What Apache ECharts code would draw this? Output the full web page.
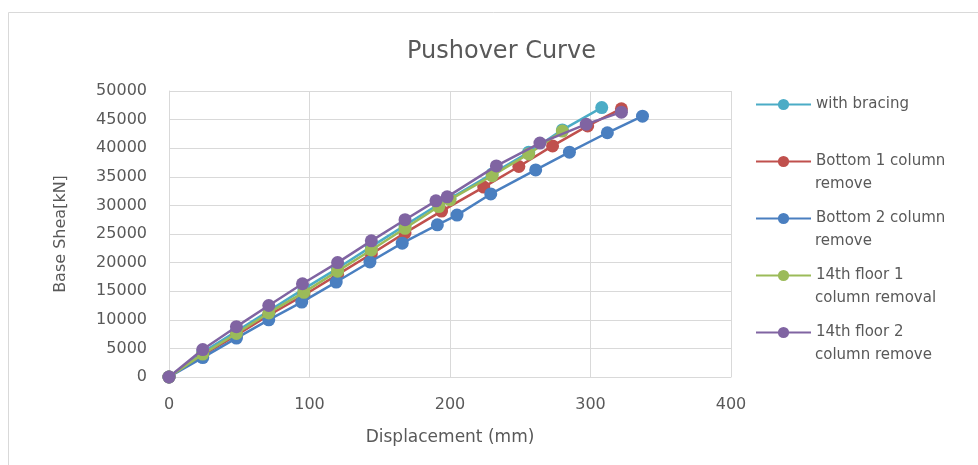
<!DOCTYPE html>
<html><head><meta charset="utf-8">
<script src="https://cdn.jsdelivr.net/npm/echarts@6/dist/echarts.min.js"></script>
<style>html,body{margin:0;padding:0;background:#fff}#c{width:978px;height:465px}</style>
</head><body><div id="c"></div>
<script>
const seriesNames = ["with bracing","Bottom 1 column\nremove","Bottom 2 column\nremove","14th floor 1\ncolumn removal","14th floor 2\ncolumn remove"];
const bracingX = [0,24,48,72,96,120,144,168,192,200,230,256,280,308];
const bracingY = [0,4300,8000,11700,15400,19000,22800,26500,30200,31200,35500,39300,43200,47100];
const bottom1X = [0,24,48,71,96,120,144,168,194,224,249,273,298,322];
const bottom1Y = [0,3800,7300,10800,14300,17900,21500,25200,29000,33200,36800,40400,43900,46900];
const bottom2X = [0,24,48,71,94.5,119,143,166,191,205,229,261,285,312,337];
const bottom2Y = [0,3400,6800,10000,13100,16600,20100,23400,26600,28300,32000,36200,39300,42700,45600];
const floor1X = [0,24,48,71,96,120,144,168,192,200,230,256,280];
const floor1Y = [0,4000,7600,11200,14800,18500,22200,26000,29800,31000,35200,39000,43000];
const floor2X = [0,24,48,71,95,120,144,168,190,198,233,264,297,322];
const floor2Y = [0,4800,8800,12500,16300,20000,23800,27500,30800,31500,36900,40900,44200,46300];
const colors = ["#4bacc6","#c0504d","#4a7fc0","#9bbb59","#8064a2"];
const xTicks = [0,100,200,300,400];
const yTicks = [0,5000,10000,15000,20000,25000,30000,35000,40000,45000,50000];

const xs=[bracingX,bottom1X,bottom2X,floor1X,floor2X], ys=[bracingY,bottom1Y,bottom2Y,floor1Y,floor2Y];
const FONT='DejaVu Sans', TXT='#595959';
const series = seriesNames.map((n,i)=>({
  name:n, type:'line', data:xs[i].map((x,k)=>[x,ys[i][k]]),
  symbol:'circle', symbolSize:13, showSymbol:true,
  lineStyle:{width:2.5,color:colors[i]}, itemStyle:{color:colors[i]}, z:2+i
}));
const chart = echarts.init(document.getElementById('c'));
chart.setOption({
  animation:false,
  title:{text:'Pushover Curve',left:402,top:35,
    textStyle:{fontFamily:FONT,fontSize:24,fontWeight:'normal',color:TXT}},
  grid:{left:169,right:247,top:91,bottom:88},
  xAxis:{type:'value',min:xTicks[0],max:xTicks[xTicks.length-1],interval:100,
    name:'Displacement (mm)',nameLocation:'middle',nameGap:52,
    nameTextStyle:{fontFamily:FONT,fontSize:17,color:TXT},
    axisLine:{show:true,lineStyle:{color:'#d9d9d9'}},axisTick:{show:false},
    axisLabel:{fontFamily:FONT,fontSize:16,color:TXT,margin:20},
    splitLine:{show:true,lineStyle:{color:'#d9d9d9'}}},
  yAxis:{type:'value',min:yTicks[0],max:yTicks[yTicks.length-1],interval:5000,
    name:'Base Shea[kN]',nameLocation:'middle',nameGap:100,
    nameTextStyle:{fontFamily:FONT,fontSize:16,color:TXT},
    axisLine:{show:true,lineStyle:{color:'#d9d9d9'}},axisTick:{show:false},
    axisLabel:{fontFamily:FONT,fontSize:16,color:TXT,margin:22,formatter:v=>String(v)},
    splitLine:{show:true,lineStyle:{color:'#d9d9d9'}}},
  legend:{orient:'vertical',left:750,top:92,itemWidth:55,itemHeight:14,itemGap:42,
    formatter:n=>n.split('\n')[0],
    textStyle:{fontFamily:FONT,fontSize:15,color:TXT,lineHeight:14},
    data:seriesNames},
  graphic:[
    {type:'rect',shape:{x:8.5,y:12.5,width:1000,height:500},style:{fill:'none',stroke:'#d9d9d9',lineWidth:1},z:-10},
    ...[[1,184],[2,241],[3,298],[4,355]].map(([i,y])=>({type:'text',left:815,top:y-7,
      style:{text:seriesNames[i].split('\n')[1],font:'15px "DejaVu Sans"',fill:TXT}}))
  ],
  series
});
</script></body></html>
